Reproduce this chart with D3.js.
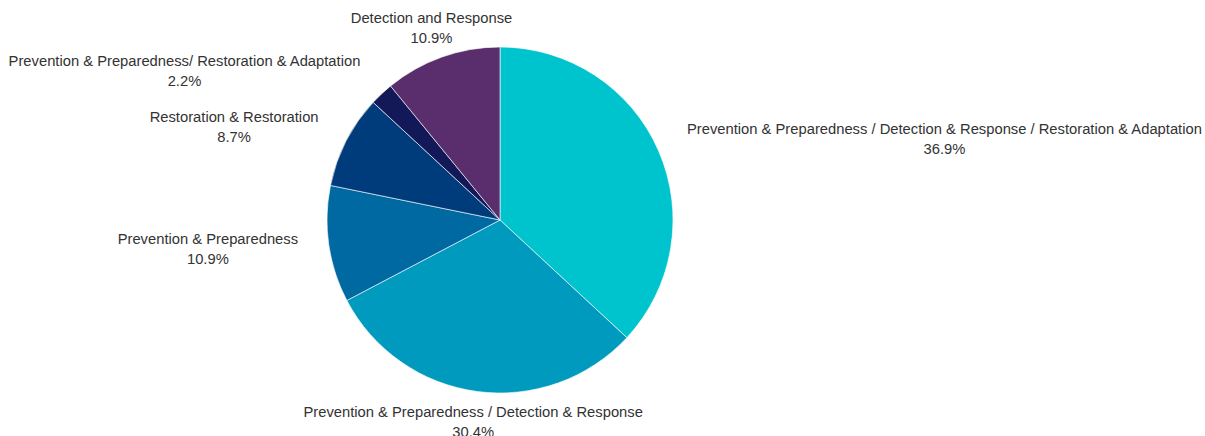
<!DOCTYPE html>
<html>
<head>
<meta charset="utf-8">
<script src="https://cdn.jsdelivr.net/npm/d3@7"></script>
<style>
  html, body { margin: 0; padding: 0; background: #fff; }
  svg { display: block; }
</style>
</head>
<body>
<svg id="chart" width="1205" height="436"></svg>
<script>
const categories = [
  "Prevention & Preparedness / Detection & Response / Restoration & Adaptation",
  "Prevention & Preparedness / Detection & Response",
  "Prevention & Preparedness",
  "Restoration & Restoration",
  "Prevention & Preparedness/ Restoration & Adaptation",
  "Detection and Response"
];
const values = [36.9, 30.4, 10.9, 8.7, 2.2, 10.9];
const colors = ["#00C4CD", "#009ABF", "#0069A2", "#003C7C", "#131858", "#5A2D6C"];

const width = 1205, height = 436;
const cx = 500, cy = 220, radius = 173, labelGap = 31;
const fontSize = 14.75, lineH = 20;

const svg = d3.select("#chart");
const data = categories.map((c, i) => ({ name: c, value: values[i], color: colors[i] }));

const pie = d3.pie().value(d => d.value).sort(null);
const arcs = pie(data);
const arc = d3.arc().innerRadius(0).outerRadius(radius);

const g = svg.append("g").attr("transform", `translate(${cx},${cy})`);

g.selectAll("path.slice")
  .data(arcs)
  .enter().append("path")
  .attr("class", "slice")
  .attr("d", arc)
  .attr("fill", d => d.data.color)
  .attr("stroke", "#ffffff")
  .attr("stroke-width", 0.6);

const labels = g.selectAll("g.label")
  .data(arcs)
  .enter().append("g")
  .attr("class", "label");

labels.each(function(d) {
  const a = (d.startAngle + d.endAngle) / 2;
  const s = Math.sin(a), c = Math.cos(a);
  const R = radius + labelGap;
  const px = s * R, py = -c * R;
  const grp = d3.select(this);
  const lines = [d.data.name, d.data.value.toFixed(1) + "%"];
  const t = grp.append("text")
    .attr("font-family", "'Liberation Sans', Arial, sans-serif")
    .attr("font-size", fontSize)
    .attr("fill", "#333333")
    .attr("text-anchor", "middle");
  lines.forEach((ln, i) => {
    t.append("tspan").attr("x", 0).attr("y", i * lineH).text(ln);
  });
  const bb = t.node().getBBox();
  const bw = bb.width;
  let bx;
  if (s > 0.5) bx = px + bw / 2;
  else if (s < -0.5) bx = px - bw / 2;
  else bx = px;
  const blockCenterOffset = (lineH * (lines.length - 1)) / 2 - fontSize * 0.35;
  const by = py - blockCenterOffset;
  grp.attr("transform", `translate(${bx},${by})`);
});
</script>
</body>
</html>
